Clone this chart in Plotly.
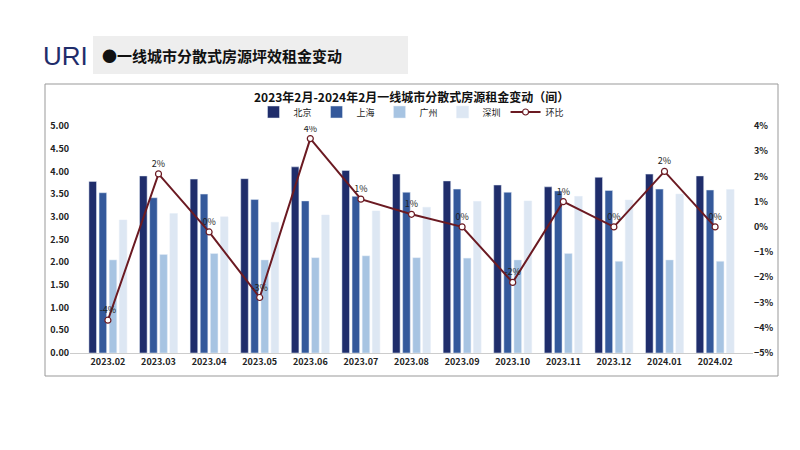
import plotly.graph_objects as go

months = ["2023.02","2023.03","2023.04","2023.05","2023.06","2023.07","2023.08","2023.09","2023.10","2023.11","2023.12","2024.01","2024.02"]
beijing = [3.78,3.90,3.83,3.84,4.10,4.02,3.94,3.79,3.70,3.66,3.87,3.94,3.90]
shanghai = [3.53,3.42,3.50,3.38,3.35,3.45,3.54,3.61,3.54,3.57,3.58,3.61,3.59]
guangzhou = [2.05,2.17,2.19,2.05,2.10,2.14,2.10,2.09,2.05,2.19,2.02,2.05,2.02]
shenzhen = [2.93,3.07,3.00,2.88,3.04,3.13,3.21,3.34,3.35,3.45,3.37,3.50,3.60]
mom = [-3.7,2.1,-0.2,-2.8,3.5,1.1,0.5,0.0,-2.2,1.0,0.0,2.2,0.0]
mom_labels = ["-4%","2%","0%","-3%","4%","1%","1%","0%","-2%","1%","0%","2%","0%"]

F = "Noto Sans CJK SC"
fig = go.Figure()
for name, vals, col in [("北京", beijing, "#1f2d6b"), ("上海", shanghai, "#34599b"),
                        ("广州", guangzhou, "#a7c4e2"), ("深圳", shenzhen, "#dde7f3")]:
    fig.add_bar(x=months, y=vals, name=name, marker_color=col)
fig.add_scatter(x=months, y=mom, name="环比", yaxis="y2", mode="lines+markers+text",
                line=dict(color="#6b1a22", width=2),
                marker=dict(color="white", size=6, line=dict(color="#6b1a22", width=1.2)),
                text=mom_labels, textposition="top center",
                textfont=dict(size=9, color="#222", family=F))

TOP, BOT = 118, 345
H = BOT - TOP
def py(px):
    return (BOT - px) / H
def pxx(px):
    return (px - 62) / (745 - 62)

fig.update_layout(
    width=800, height=450, paper_bgcolor="white", plot_bgcolor="white",
    barmode="group", bargap=0.2, bargroupgap=0.25,
    margin=dict(l=62, r=55, t=TOP, b=450 - BOT, autoexpand=False),
    font=dict(family=F, size=9, color="#222"),
    legend=dict(orientation="h", x=0.5, xanchor="center", y=py(104), yanchor="middle",
                font=dict(size=9, family=F), bgcolor="rgba(0,0,0,0)", itemwidth=30,
                tracegroupgap=0),
    xaxis=dict(tickfont=dict(size=9, family=F, weight="bold"), showline=True, linecolor="#ccc", ticks=""),
    yaxis=dict(range=[0,5], dtick=0.5, tickformat=".2f", showgrid=False, tickfont=dict(size=9, weight="bold")),
    yaxis2=dict(range=[-5,4], dtick=1, ticksuffix="%", overlaying="y", side="right",
                showgrid=False, tickfont=dict(size=9, weight="bold")),
)
fig.add_annotation(xref="paper", yref="paper", x=0.5, y=py(88), yanchor="middle", showarrow=False,
                   text="<b>2023年2月-2024年2月一线城市分散式房源租金变动（间）</b>",
                   font=dict(size=12, family=F, color="#111"))
fig.add_shape(type="rect", xref="paper", yref="paper", x0=pxx(37), x1=pxx(770), y0=py(368), y1=py(76),
              line=dict(color="#999", width=1))
fig.add_shape(type="rect", xref="paper", yref="paper", x0=pxx(85), x1=pxx(400), y0=py(66), y1=py(28),
              line=dict(width=0), fillcolor="#eeeeee")
fig.add_annotation(xref="paper", yref="paper", x=pxx(92), y=py(47), xanchor="left", yanchor="middle",
                   showarrow=False, text="<b>●一线城市分散式房源坪效租金变动</b>",
                   font=dict(size=15, family=F, color="#111"))
fig.add_annotation(xref="paper", yref="paper", x=pxx(33), y=py(48), xanchor="left", yanchor="middle",
                   showarrow=False, text="URI", font=dict(size=26, family="Liberation Sans", color="#1f2d6b"))
fig.write_html("out.html")
